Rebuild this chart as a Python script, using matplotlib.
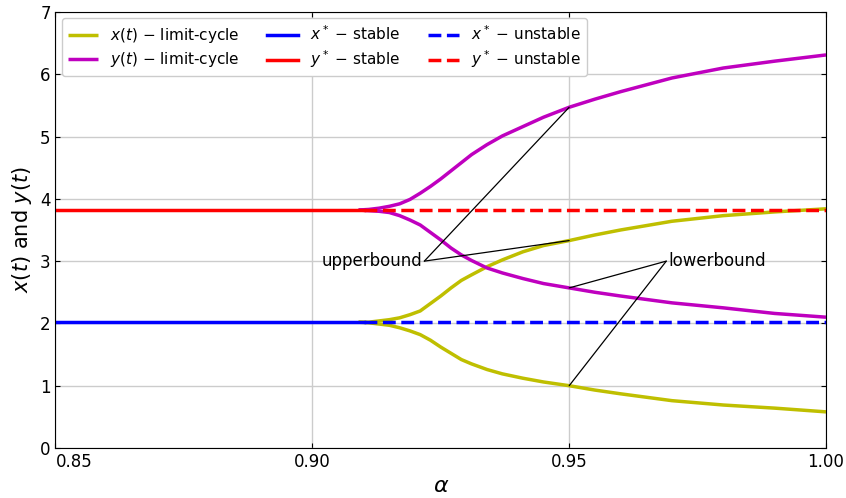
import matplotlib
matplotlib.use("Agg")
import matplotlib.pyplot as plt

# ---- data ----
alpha = [0.909, 0.911, 0.913, 0.915, 0.917, 0.919, 0.921,
         0.923, 0.925, 0.927, 0.929, 0.931, 0.934, 0.937, 0.941, 0.945, 0.95,
         0.955, 0.96, 0.97, 0.98, 0.99, 1.00]
x_up = [2.02, 2.02, 2.04, 2.06, 2.09, 2.14, 2.20,
        2.32, 2.44, 2.57, 2.69, 2.78, 2.91, 3.02, 3.15, 3.25, 3.33,
        3.42, 3.50, 3.64, 3.73, 3.79, 3.84]
x_lo = [2.02, 2.01, 1.99, 1.97, 1.93, 1.88, 1.82,
        1.73, 1.62, 1.52, 1.42, 1.35, 1.26, 1.19, 1.12, 1.06, 1.00,
        0.93, 0.87, 0.76, 0.69, 0.64, 0.58]
y_up = [3.82, 3.83, 3.85, 3.88, 3.92, 3.99, 4.09,
        4.20, 4.32, 4.45, 4.58, 4.71, 4.87, 5.01, 5.16, 5.31, 5.47,
        5.60, 5.72, 5.94, 6.10, 6.21, 6.31]
y_lo = [3.82, 3.81, 3.80, 3.78, 3.73, 3.66, 3.58,
        3.46, 3.34, 3.21, 3.10, 3.01, 2.89, 2.81, 2.72, 2.64, 2.57,
        2.50, 2.44, 2.33, 2.25, 2.16, 2.10]
x_star = 2.02
y_star = 3.82
alpha_min, alpha_c, alpha_max = 0.85, 0.910, 1.00

xticks = [0.85, 0.90, 0.95, 1.00]
xtick_labels = ["0.85", "0.90", "0.95", "1.00"]
yticks = [0, 1, 2, 3, 4, 5, 6, 7]

fig = plt.figure(figsize=(8.46, 4.98), dpi=100)
ax = fig.add_axes([0.0656, 0.1004, 0.9108, 0.8756])

lw = 2.5
lc_kw = dict(lw=lw, zorder=2, solid_capstyle='butt')
ax.plot(alpha, x_up, color='y', label=r'$x(t)$ $-$ limit-cycle', **lc_kw)
ax.plot(alpha, x_lo, color='y', **lc_kw)
ax.plot(alpha, y_up, color='m', label=r'$y(t)$ $-$ limit-cycle', **lc_kw)
ax.plot(alpha, y_lo, color='m', **lc_kw)

ax.plot([alpha_min, alpha_c], [x_star, x_star], color='b', lw=lw, zorder=2.2, label=r'$x^*$ $-$ stable')
ax.plot([alpha_min, alpha_c], [y_star, y_star], color='r', lw=lw, zorder=2.2, label=r'$y^*$ $-$ stable')
ax.plot([alpha_c, alpha_max], [x_star, x_star], color='b', lw=lw, ls='--', zorder=2.2, label=r'$x^*$ $-$ unstable')
ax.plot([alpha_c, alpha_max], [y_star, y_star], color='r', lw=lw, ls='--', zorder=2.2, label=r'$y^*$ $-$ unstable')

ax.set_xlim(alpha_min, alpha_max)
ax.set_ylim(0, 7)
ax.set_xticks(xticks)
ax.set_xticklabels(xtick_labels)
ax.get_xticklabels()[0].set_horizontalalignment('left')
ax.set_yticks(yticks)
ax.tick_params(direction='in', top=True, right=True, labelsize=12)
ax.grid(True, color='#cccccc', lw=1)
ax.set_axisbelow(True)
ax.set_xlabel(r'$\alpha$', fontsize=16)
ax.set_ylabel(r'$x(t)$ and $y(t)$', fontsize=15)

i95 = alpha.index(0.95)
up_pos = (0.9218, 3.0)
lo_pos = (0.9689, 3.0)
ax.text(up_pos[0] - 0.0004, up_pos[1], 'upperbound', ha='right', va='center', fontsize=12)
ax.text(lo_pos[0] + 0.0004, lo_pos[1], 'lowerbound', ha='left', va='center', fontsize=12)
line_kw = dict(arrowprops=dict(arrowstyle='-', color='k', lw=0.9, shrinkA=0, shrinkB=0))
for target in (y_up[i95], x_up[i95]):
    ax.annotate('', xy=(0.95, target), xytext=up_pos, **line_kw)
for target in (y_lo[i95], x_lo[i95]):
    ax.annotate('', xy=(0.95, target), xytext=lo_pos, **line_kw)

ax.legend(loc='upper left', ncol=3, fontsize=11, handlelength=2.0,
          columnspacing=1.8, labelspacing=0.35, borderaxespad=0.4, framealpha=1)

fig.savefig('out.png', dpi=100)
